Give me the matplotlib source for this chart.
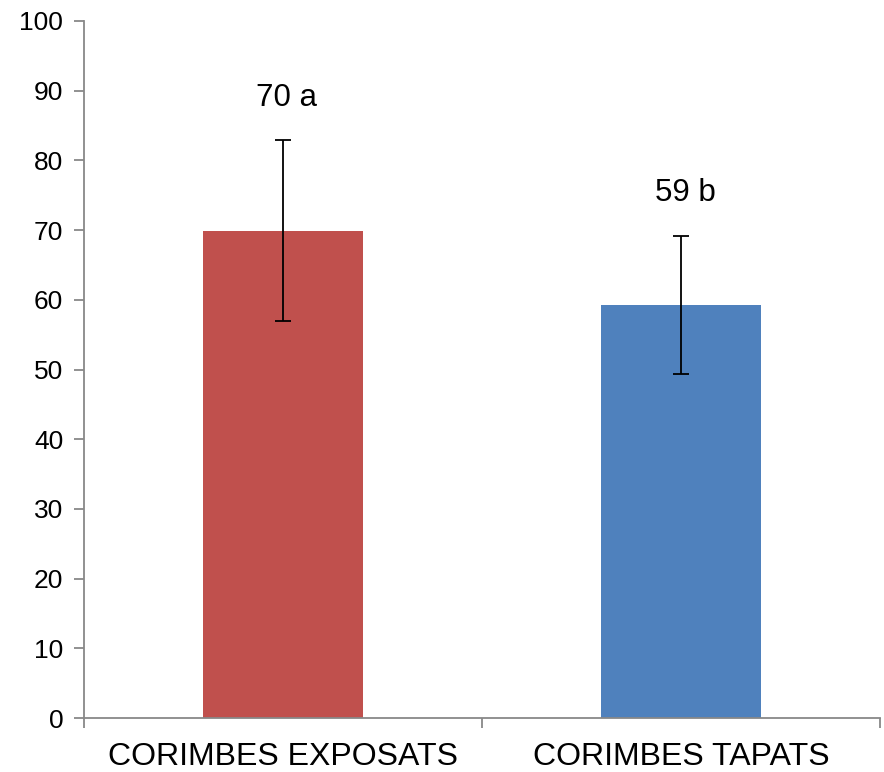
import numpy as np
import matplotlib.pyplot as plt

plt.rcParams['font.family'] = ['Liberation Sans', 'DejaVu Sans']

# Dades
categories = ['CORIMBES EXPOSATS', 'CORIMBES TAPATS']
values = [69.9, 59.3]
errors = [13.0, 9.9]
labels = ['70 a', '59 b']
label_y = [89.0, 75.3]
colors = ['#C0504D', '#4F81BD']

fig = plt.figure(figsize=(8.84, 7.72), dpi=100)
ax = fig.add_axes([0.095, 0.0699, 0.9005, 0.9029])

x = np.arange(len(categories))
ax.bar(x, values, width=0.402, color=colors, zorder=2)
ax.errorbar(x, values, yerr=errors, fmt='none', ecolor='black',
            elinewidth=1.3, capsize=5.5, capthick=1.3, zorder=3)

for xi, lab, ly in zip(x, labels, label_y):
    ax.text(xi + 0.01, ly, lab, ha='center', va='center', fontsize=22.5)

ax.set_xlim(-0.5, 1.5)
ax.set_ylim(0, 100)
ax.set_yticks(np.arange(0, 101, 10))
ax.set_xticks(x)
ax.set_xticklabels(categories, fontsize=23)
ax.set_xticks([-0.5, 0.5, 1.5], minor=True)
ax.tick_params(axis='x', which='major', length=0, pad=17)
ax.tick_params(axis='x', which='minor', length=7, width=1.3, color='#888888', direction='out')
ax.tick_params(axis='y', length=7, width=1.3, color='#888888', labelsize=19, pad=8)

for s in ['top', 'right']:
    ax.spines[s].set_visible(False)
for s in ['left', 'bottom']:
    ax.spines[s].set_color('#888888')
    ax.spines[s].set_linewidth(1.3)

fig.savefig('out.png', dpi=100)
